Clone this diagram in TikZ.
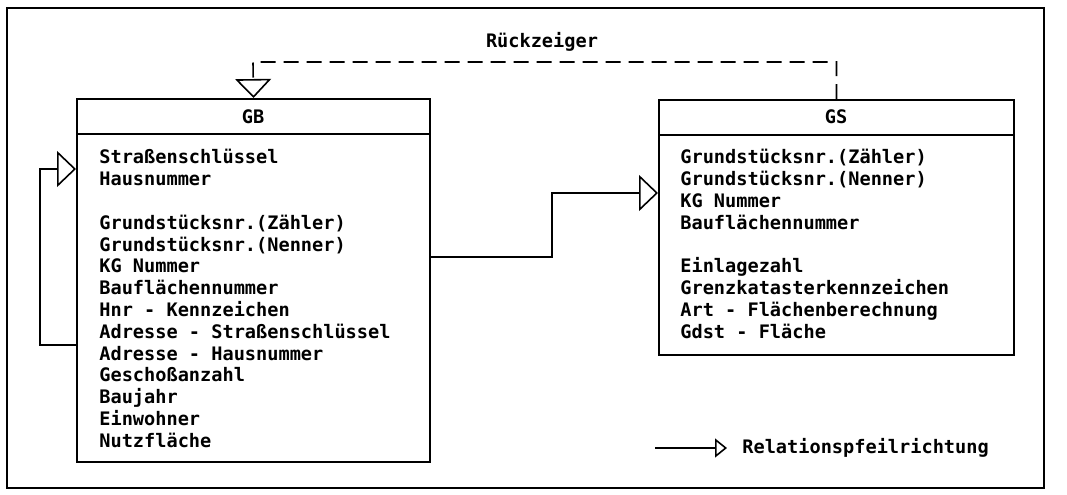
\documentclass[tikz,border=0pt]{standalone}
\usepackage{fontspec}
\setmonofont{DejaVu Sans Mono}
\usetikzlibrary{arrows.meta,positioning}
\newcommand{\plotfont}{\ttfamily\bfseries\fontsize{9.3}{10.9}\selectfont}
\tikzset{
  entity/.style={draw, line width=1pt, anchor=north west, inner sep=0pt},
  attrlist/.style={anchor=north west, align=left, inner sep=0pt, font=\plotfont},
  plotlabel/.style={inner sep=0pt, font=\plotfont},
  relarrow/.style={line width=0.8pt, -{Triangle[open, length=9.5pt, width=18pt]}},
  backarrow/.style={line width=0.8pt, dash pattern=on 7.5pt off 4pt,
    -{Triangle[open, length=9.5pt, width=18pt]}},
}
\begin{document}
\begin{tikzpicture}[x=0.5pt, y=-0.5pt]
  \useasboundingbox (0,0) rectangle (1067,494);
  % outer frame
  \draw [line width=0.9pt] (7,8) rectangle (1044,488);

  % entity GB
  \node [entity, minimum width=176.5pt, minimum height=181.5pt] (gb) at (76,98) {};
  \draw [line width=1pt] ([yshift=-18pt]gb.north west) -- ([yshift=-18pt]gb.north east);
  \node [plotlabel] (gbtitle) at (253,117) {GB};
  \node [attrlist] (gbattr) at (99,149) {%
    Straßenschlüssel\\
    Hausnummer\\[10.9pt]
    Grundstücksnr.(Zähler)\\
    Grundstücksnr.(Nenner)\\
    KG Nummer\\
    Bauflächennummer\\
    Hnr - Kennzeichen\\
    Adresse - Straßenschlüssel\\
    Adresse - Hausnummer\\
    Geschoßanzahl\\
    Baujahr\\
    Einwohner\\
    Nutzfläche};

  % entity GS
  \node [entity, minimum width=177.5pt, minimum height=127.5pt] (gs) at (658,99) {};
  \draw [line width=1pt] ([yshift=-18pt]gs.north west) -- ([yshift=-18pt]gs.north east);
  \node [plotlabel] (gstitle) at (836,117) {GS};
  \node [attrlist] (gsattr) at (680,149) {%
    Grundstücksnr.(Zähler)\\
    Grundstücksnr.(Nenner)\\
    KG Nummer\\
    Bauflächennummer\\[10.9pt]
    Einlagezahl\\
    Grenzkatasterkennzeichen\\
    Art - Flächenberechnung\\
    Gdst - Fläche};

  % relation GB -> GS
  \coordinate (gbout) at (429,257);
  \coordinate (gsbend) at (552,193);
  \coordinate (gsin) at (658,193);
  \draw [relarrow] (gbout) -| (gsbend) -- (gsin);

  % relation GB -> GB
  \coordinate (loopout) at (76,345);
  \coordinate (loopbend) at (40,169);
  \coordinate (loopin) at (76,169);
  \draw [relarrow] (loopout) -| (loopbend) -- (loopin);

  % back pointer GS -> GB
  \coordinate (backbend) at (253,62);
  \draw [backarrow] (gs.north) |- (backbend) -- (gb.north);
  \node [plotlabel] (backlabel) at (542,42) {Rückzeiger};

  % legend
  \coordinate (legstart) at (655,448);
  \coordinate (legend) at (727,448);
  \draw [line width=0.8pt, -{Triangle[open, length=6pt, width=9.5pt]}] (legstart) -- (legend);
  \node [plotlabel, anchor=west] (legtext) at (742,448) {Relationspfeilrichtung};
\end{tikzpicture}
\end{document}
